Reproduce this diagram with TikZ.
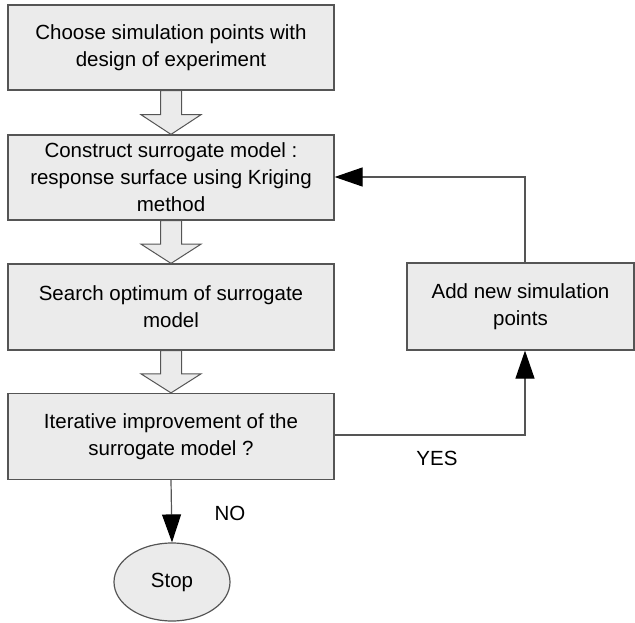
\documentclass[tikz,border=0pt]{standalone}
\usepackage{fontspec}
\setmainfont{Liberation Sans}
\usetikzlibrary{shapes.geometric,arrows.meta,calc}
\definecolor{boxfill}{HTML}{EBEBEB}
\definecolor{boxline}{HTML}{555555}
\begin{document}
\begin{tikzpicture}[x=1pt,y=-1pt,
  box/.style={draw=boxline,fill=boxfill,line width=1.2pt,inner sep=0pt,align=center,font=\fontsize{20.5}{27}\selectfont},
  conn/.style={draw=boxline,line width=1.2pt},
  tip/.style={-{Triangle[length=28pt,width=19pt,fill=black,color=black]}},
  lbl/.style={font=\fontsize{20.5}{24}\selectfont,inner sep=0pt}]
\useasboundingbox (0,0) rectangle (635,623);
\node[box,minimum width=326pt,minimum height=85pt] (b1) at (171,47.5) {Choose simulation points with\\design of experiment};
\node[box,minimum width=326pt,minimum height=85pt] (b2) at (171,177.5) {Construct surrogate model :\\response surface using Kriging\\method};
\node[box,minimum width=326pt,minimum height=86pt] (b3) at (171,307) {Search optimum of surrogate\\model};
\node[box,minimum width=326pt,minimum height=86pt] (b4) at (171,436.5) {Iterative improvement of the\\surrogate model ?};
\node[box,minimum width=227pt,minimum height=87pt] (b5) at (520.5,306.5) {Add new simulation\\points};
\node[draw=boxline,fill=boxfill,line width=1.2pt,ellipse,minimum width=116pt,minimum height=78pt,inner sep=0pt,font=\fontsize{20.5}{24}\selectfont] (stop) at (172,582) {Stop};
% block arrows
\foreach \a/\b in {b1/b2,b2/b3,b3/b4}{
  \path (\a.south) coordinate (s) (\b.north) coordinate (e);
  \draw[draw=boxline,fill=boxfill,line width=1pt]
    ($(s)+(-10.5,0)$) -- ($(s)+(10.5,0)$) -- ($(s)!0.55!(e)+(10.5,0)$) -- ($(s)!0.55!(e)+(30,0)$) -- (e)
    -- ($(s)!0.55!(e)+(-30,0)$) -- ($(s)!0.55!(e)+(-10.5,0)$) -- cycle;
}
% connectors
\draw[conn,tip] (b4.south) -- (stop.north);
\coordinate (c1) at (525,435);
\coordinate (c2) at (525,177);
\draw[conn,tip] (b4.east |- c1) -- (c1) -- (c1 |- b5.south);
\draw[conn,tip] (c1 |- b5.north) -- (c2) -- (b2.east |- c2);
\node[lbl] (no) at (230,513) {NO};
\node[lbl] (yes) at (437,458) {YES};
\end{tikzpicture}
\end{document}
